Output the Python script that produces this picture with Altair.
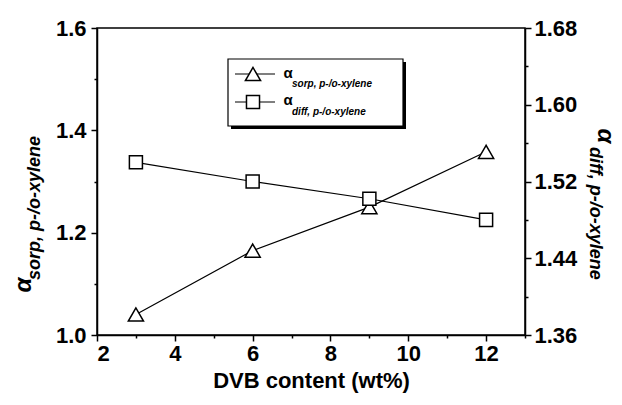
import altair as alt
import pandas as pd

# ---- data ----
dvb = [3, 6, 9, 12]
alpha_sorp = [1.04, 1.165, 1.25, 1.358]      # left axis (triangles)
alpha_diff = [1.540, 1.520, 1.502, 1.480]    # right axis (squares)

x_ticks = [2, 3, 4, 5, 6, 7, 8, 9, 10, 11, 12, 13]
left_ticks = [1.0, 1.1, 1.2, 1.3, 1.4, 1.5, 1.6]
right_ticks = [1.36, 1.40, 1.44, 1.48, 1.52, 1.56, 1.60, 1.64, 1.68]

FONT = "Liberation Sans"
W, H = 428, 307

df = pd.DataFrame({"dvb": dvb, "sorp": alpha_sorp, "diff": alpha_diff})

x_enc = alt.X(
    "dvb:Q",
    scale=alt.Scale(domain=[2, 13], nice=False, zero=False),
    axis=alt.Axis(
        values=x_ticks,
        labelExpr="datum.value % 2 == 0 ? datum.label : ''",
        tickSize={"condition": {"test": "datum.value % 2 == 0", "value": 6}, "value": 3},
        title="DVB content (wt%)",
        titleFontSize=22,
        titleFont=FONT,
        titleFontWeight="bold",
        titlePadding=6,
        labelPadding=2,
    ),
)

base = alt.Chart(df)

y_left = alt.Y(
    "sorp:Q",
    scale=alt.Scale(domain=[1.0, 1.6], nice=False, zero=False),
    axis=alt.Axis(
        orient="left",
        values=left_ticks,
        format=".1f",
        labelExpr="round(datum.value*10) % 2 == 0 ? datum.label : ''",
        tickSize={"condition": {"test": "round(datum.value*10) % 2 == 0", "value": 6}, "value": 3},
        title=None,
        labelPadding=5,
    ),
)
y_right = alt.Y(
    "diff:Q",
    scale=alt.Scale(domain=[1.36, 1.68], nice=False, zero=False),
    axis=alt.Axis(
        orient="right",
        values=right_ticks,
        format=".2f",
        labelExpr="round(datum.value*100) % 8 == 0 ? datum.label : ''",
        tickSize={"condition": {"test": "round(datum.value*100) % 8 == 0", "value": 6}, "value": 3},
        title=None,
        labelPadding=3,
    ),
)

left = alt.layer(
    base.mark_line(color="black", strokeWidth=1.2).encode(x=x_enc, y=y_left),
    base.mark_point(shape="triangle-up", size=230, filled=True, fill="white",
                    stroke="black", strokeWidth=1.5, opacity=1).encode(x=x_enc, y=y_left),
)
right = alt.layer(
    base.mark_line(color="black", strokeWidth=1.2).encode(x=x_enc, y=y_right),
    base.mark_point(shape="square", size=170, filled=True, fill="white",
                    stroke="black", strokeWidth=1.5, opacity=1).encode(x=x_enc, y=y_right),
)

one = alt.Chart(pd.DataFrame({"k": [0]}))

# ---- axis titles (rotated, with subscript) ----
def txt(s, x, y, size, angle=0, align="center", italic=True, baseline="middle"):
    return one.mark_text(
        text=s, font=FONT, fontSize=size, fontWeight="bold",
        fontStyle="italic" if italic else "normal", angle=angle, align=align,
        baseline=baseline, color="black",
    ).encode(x=alt.value(x), y=alt.value(y))

titles = [
    txt("α", -73, 257, 24, angle=270),
    txt("sorp, p-/o-xylene", -62, 252, 18, angle=270, align="left"),
    txt("α", 508, 108, 24, angle=90),
    txt("diff, p-/o-xylene", 498, 119, 18, angle=90, align="left"),
]

# ---- legend box ----
shadow = one.mark_rect(color="black").encode(
    x=alt.value(134), x2=alt.value(309), y=alt.value(34), y2=alt.value(101))
box = one.mark_rect(fill="white", stroke="black", strokeWidth=1.2).encode(
    x=alt.value(131), x2=alt.value(306), y=alt.value(31), y2=alt.value(98))
leg_line1 = one.mark_rule(color="black", strokeWidth=1.2).encode(
    x=alt.value(138), x2=alt.value(178), y=alt.value(46))
leg_line2 = one.mark_rule(color="black", strokeWidth=1.2).encode(
    x=alt.value(138), x2=alt.value(178), y=alt.value(74))
leg_tri = one.mark_point(shape="triangle-up", size=230, filled=True, fill="white",
                         stroke="black", strokeWidth=1.5, opacity=1).encode(
    x=alt.value(156), y=alt.value(46))
leg_sq = one.mark_point(shape="square", size=170, filled=True, fill="white",
                        stroke="black", strokeWidth=1.5, opacity=1).encode(
    x=alt.value(156), y=alt.value(74))
legend = [
    shadow, box, leg_line1, leg_line2, leg_tri, leg_sq,
    txt("α", 191, 45, 15, italic=False),
    txt("sorp, p-/o-xylene", 195, 56, 10, align="left"),
    txt("α", 191, 72, 15, italic=False),
    txt("diff, p-/o-xylene", 195, 84, 10, align="left"),
]

chart = alt.layer(left, right, *titles, *legend).resolve_scale(y="independent").properties(
    width=W, height=H,
    background="white",
    autosize=alt.AutoSizeParams(type="none"),
    padding={"left": 97, "top": 28, "right": 97, "bottom": 70},
).configure_view(stroke="black", strokeWidth=1.5).configure_axis(
    grid=False,
    domainColor="black", domainWidth=1.5,
    tickColor="black", tickWidth=1.5,
    labelFont=FONT, labelFontSize=22, labelFontWeight="bold", labelColor="black",
    titleColor="black",
)

chart.save("out.html", embed_options={"renderer": "svg", "actions": False})
